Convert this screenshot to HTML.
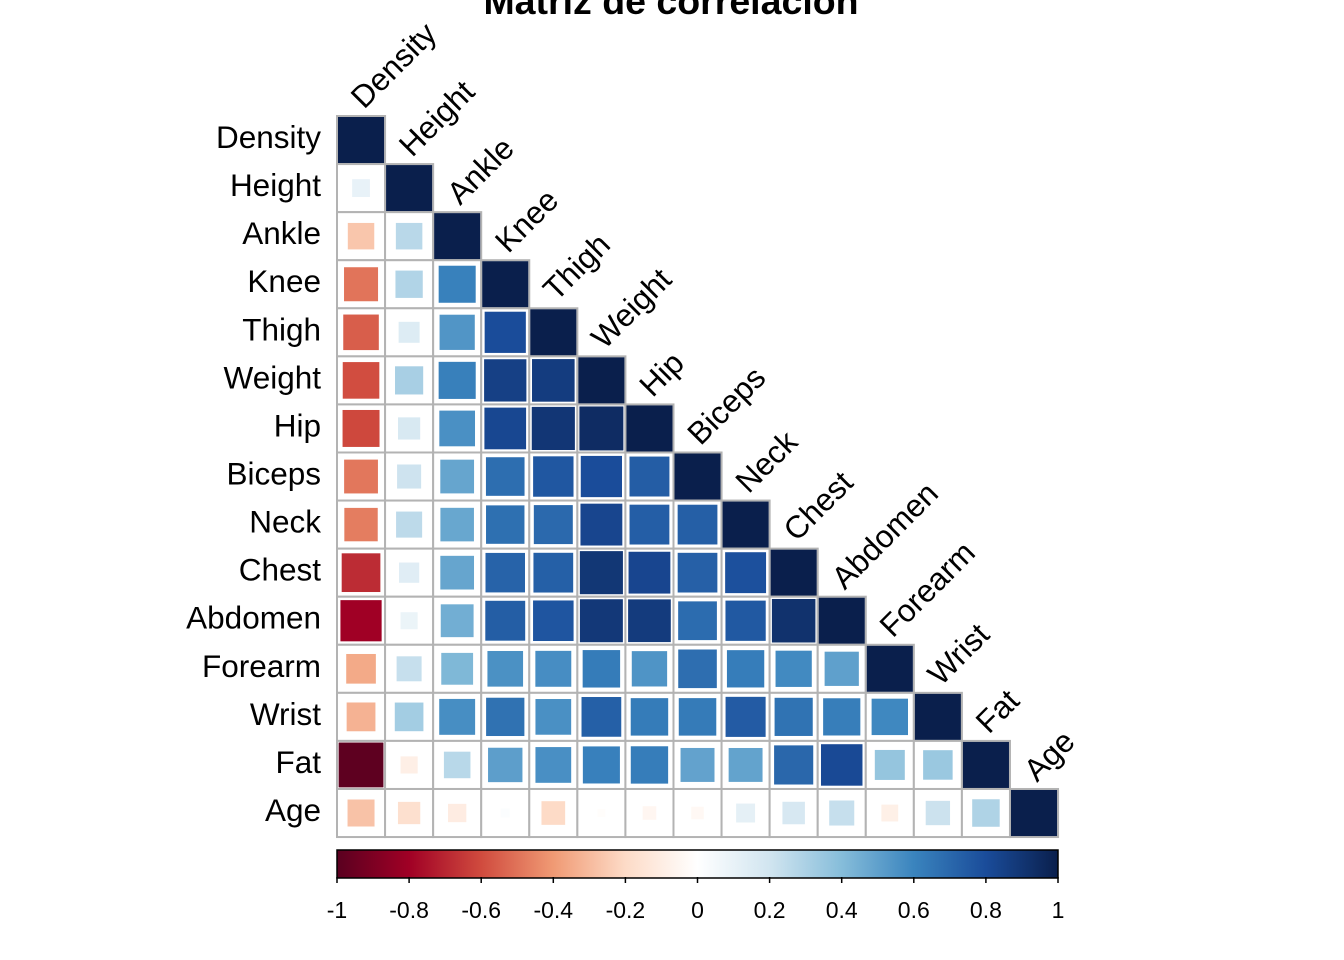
<!DOCTYPE html>
<html><head><meta charset="utf-8"><style>
html,body{margin:0;padding:0;background:#fff;}
svg{display:block;font-family:"Liberation Sans",Arial,sans-serif;}
</style></head><body>
<svg id="chart" width="1344" height="960" viewBox="0 0 1344 960">
<defs>
<linearGradient id="grad" x1="0" x2="1" y1="0" y2="0">
<stop offset="0" stop-color="#5A0020"/><stop offset="0.1" stop-color="#A00025"/><stop offset="0.2" stop-color="#D04B3E"/><stop offset="0.3" stop-color="#F09A74"/><stop offset="0.4" stop-color="#FDDBC7"/><stop offset="0.5" stop-color="#FFFFFF"/><stop offset="0.6" stop-color="#D1E5F0"/><stop offset="0.7" stop-color="#86BDDA"/><stop offset="0.8" stop-color="#3A84BE"/><stop offset="0.9" stop-color="#1A4C9A"/><stop offset="1" stop-color="#0A1F4C"/>
</linearGradient>
</defs>
<text x="671" y="14" text-anchor="middle" font-size="37.5" font-weight="bold">Matriz de correlación</text>
<g id="cells"></g>
<g id="labels"></g>
<rect x="337" y="850" width="721" height="28" fill="url(#grad)" stroke="#000" stroke-width="1.5"/>
<g id="cbticks"></g>
</svg>
<script>
const vars = ["Density","Height","Ankle","Knee","Thigh","Weight","Hip","Biceps","Neck","Chest","Abdomen","Forearm","Wrist","Fat","Age"];
const corrRows = [
[],
[0.098],
[-0.264,0.265],
[-0.495,0.286,0.612],
[-0.553,0.148,0.540,0.799],
[-0.594,0.309,0.614,0.853,0.869],
[-0.609,0.170,0.558,0.823,0.896,0.941],
[-0.488,0.208,0.485,0.679,0.761,0.800,0.739],
[-0.473,0.254,0.478,0.672,0.696,0.831,0.735,0.731],
[-0.683,0.135,0.483,0.719,0.730,0.894,0.829,0.728,0.785],
[-0.799,0.088,0.453,0.737,0.767,0.888,0.874,0.685,0.754,0.916],
[-0.351,0.229,0.419,0.556,0.567,0.630,0.545,0.678,0.624,0.580,0.503],
[-0.326,0.322,0.566,0.665,0.559,0.730,0.630,0.632,0.745,0.660,0.620,0.586],
[-0.988,-0.089,0.266,0.509,0.560,0.613,0.625,0.493,0.491,0.703,0.813,0.361,0.347],
[-0.278,-0.172,-0.105,0.018,-0.200,-0.013,-0.050,-0.041,0.114,0.176,0.230,-0.085,0.214,0.291]
];
const tickVals = [-1,-0.8,-0.6,-0.4,-0.2,0,0.2,0.4,0.6,0.8,1];
const tickLabels = ["-1","-0.8","-0.6","-0.4","-0.2","0","0.2","0.4","0.6","0.8","1"];

const NS="http://www.w3.org/2000/svg";
const X0=337, Y0=116, CS=48.07;
const stops=[[90,0,32],[160,0,37],[208,75,62],[240,154,116],[253,219,199],[255,255,255],[209,229,240],[134,189,218],[58,132,190],[26,76,154],[10,31,76]];
function col(r){let t=(r+1)/2*10; let i=Math.min(9,Math.floor(t)); let f=t-i; const a=stops[i],b=stops[i+1];
 return "rgb("+a.map((v,k)=>Math.round(v+(b[k]-v)*f)).join(",")+")";}
function cx(j){return X0+j*CS;} function cy(i){return Y0+i*CS;}
function cbx(v){return 337+(v+1)/2*721;}
const cells=document.getElementById('cells'), labels=document.getElementById('labels');
function mk(tag,attrs,parent){const e=document.createElementNS(NS,tag);for(const k in attrs)e.setAttribute(k,attrs[k]);parent.appendChild(e);return e;}
for(let i=0;i<vars.length;i++){
 for(let j=0;j<=i;j++){
  const r = (i===j)?1:corrRows[i][j];
  const bg=mk('rect',{x:cx(j),y:cy(i),width:CS,height:CS,fill:'#fff',stroke:'#b3b3b3','stroke-width':2},cells);
  
  
  const s=(i===j)?(CS-2):(CS-3)*Math.pow(Math.abs(r),0.4);
  const sq=mk('rect',{x:cx(j)+CS/2-s/2,y:cy(i)+CS/2-s/2,width:s,height:s,fill:col(r)},cells);
  
  
 }
 const rl=mk('text',{x:321,y:cy(i)+CS/2+8,'text-anchor':'end','font-size':31.5},labels);
 rl.textContent=vars[i];
 
 
 const lx=cx(i)+CS/2+3, ly=cy(i)-6;
 const cl=mk('text',{x:lx,y:ly,'font-size':31.5,transform:'rotate(-45 '+lx+' '+ly+')'},labels);
 cl.textContent=vars[i];
 
 
}
const cb=document.getElementById('cbticks');
tickVals.forEach((v,k)=>{
 const x=cbx(v);
 const t=mk('line',{x1:x,x2:x,y1:877,y2:883,stroke:'#000','stroke-width':1.5},cb);
 
 
 const l=mk('text',{x:x,y:918,'text-anchor':'middle','font-size':23},cb);
 l.textContent=tickLabels[k];
 
 
});
</script>
</body></html>
